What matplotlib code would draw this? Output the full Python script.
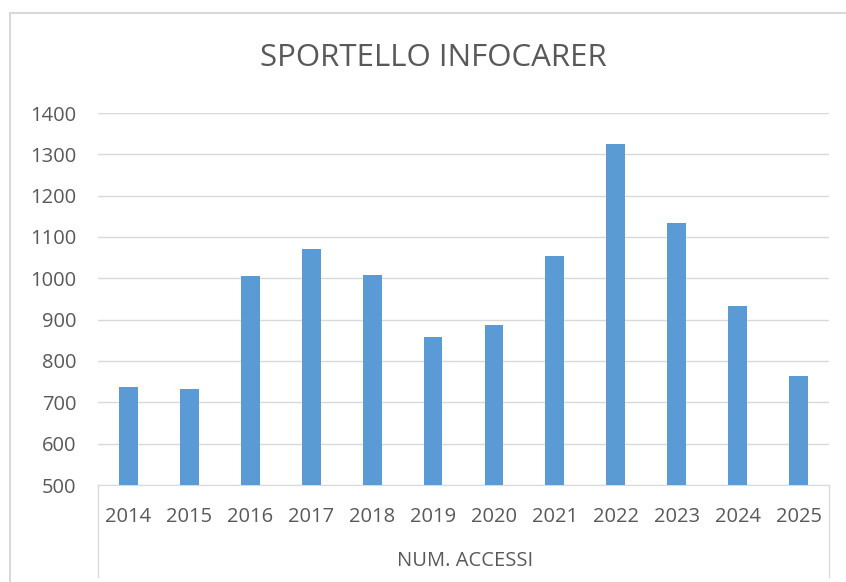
import matplotlib.pyplot as plt
from matplotlib.lines import Line2D

YEARS = ["2014", "2015", "2016", "2017", "2018", "2019",
         "2020", "2021", "2022", "2023", "2024", "2025"]
ACCESSI = [736, 732, 1006, 1071, 1009, 857, 888, 1053, 1326, 1133, 934, 763]
Y_TICKS = [500, 600, 700, 800, 900, 1000, 1100, 1200, 1300, 1400]

W, H = 846, 582
GRID = "#d9d9d9"
TEXT = "#595959"


def px(x, y):
    # pixel coords (top-left origin) -> figure fraction
    return x / W, 1 - y / H


def main():
    plt.rcParams["font.family"] = ["Open Sans", "DejaVu Sans"]
    fig = plt.figure(figsize=(W / 100, H / 100), dpi=100)

    l, b = px(98, 485)
    r, t = px(829, 113)
    ax = fig.add_axes([l, b, r - l, t - b])

    ax.bar(range(len(YEARS)), ACCESSI, width=0.31, color="#5b9bd5", zorder=3)
    ax.set_xlim(-0.5, len(YEARS) - 0.5)
    ax.set_ylim(500, 1400)
    ax.set_yticks(Y_TICKS)
    ax.set_xticks(range(len(YEARS)))
    ax.set_xticklabels(YEARS)
    ax.tick_params(axis="both", length=0, labelsize=14.5, colors=TEXT)
    ax.tick_params(axis="y", pad=15.5)
    ax.tick_params(axis="x", pad=16)
    ax.grid(axis="y", color=GRID, lw=1, zorder=0)
    for side in ["top", "left", "right"]:
        ax.spines[side].set_visible(False)
    ax.spines["bottom"].set_color(GRID)

    # category table lines below the axis
    for x in (98, 829):
        x0, y0 = px(x, 485)
        x1, y1 = px(x, 577)
        fig.add_artist(Line2D([x0, x1], [y0, y1], color=GRID, lw=1))

    # outer chart border
    fig.add_artist(Line2D([10 / W, 10 / W], [0, 1 - 13 / H], color=GRID, lw=1.5))
    fig.add_artist(Line2D([10 / W, 1], [1 - 13 / H, 1 - 13 / H], color=GRID, lw=1.5))

    fig.text(*px(433, 58), "SPORTELLO INFOCARER", ha="center", va="center",
             fontsize=22.5, color=TEXT)
    fig.text(*px(465, 561), "NUM. ACCESSI", ha="center", va="center",
             fontsize=14.5, color=TEXT)

    fig.savefig("out.png", dpi=100)


if __name__ == "__main__":
    main()
